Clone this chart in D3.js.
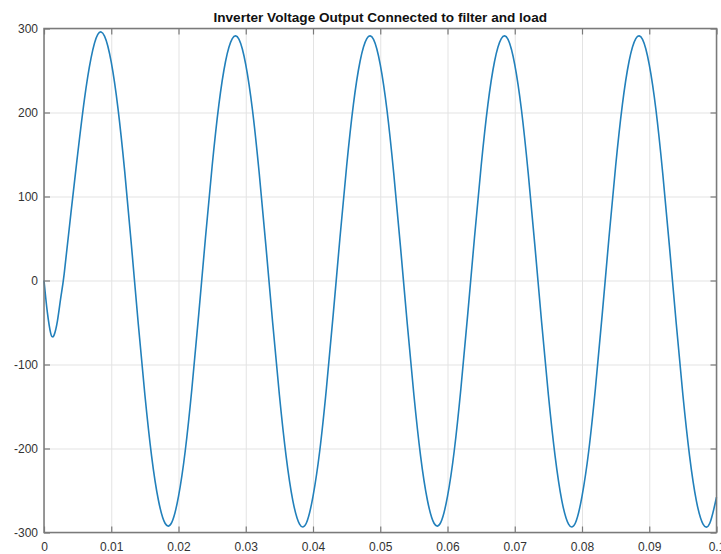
<!DOCTYPE html>
<html>
<head>
<meta charset="utf-8">
<script src="https://cdn.jsdelivr.net/npm/d3@7"></script>
<style>
  body { margin: 0; background: #fff; }
  text { font-family: "Liberation Sans", Arial, Helvetica, sans-serif; }
</style>
</head>
<body>
<div id="chart"></div>
<script>
// Time samples (s) and inverter output voltage (V)
var timeS = [0, 0.0005, 0.001, 0.00125, 0.0015, 0.002, 0.0025, 0.003,
  0.004, 0.005, 0.006, 0.007, 0.008, 0.009, 0.010, 0.011, 0.012, 0.013,
  0.014, 0.015, 0.016, 0.017, 0.018, 0.019, 0.020, 0.021, 0.022, 0.023,
  0.024, 0.025, 0.026, 0.027, 0.028, 0.029, 0.030, 0.031, 0.032, 0.033,
  0.034, 0.035, 0.036, 0.037, 0.038, 0.039, 0.040, 0.041, 0.042, 0.043,
  0.044, 0.045, 0.046, 0.047, 0.048, 0.049, 0.050, 0.051, 0.052, 0.053,
  0.054, 0.055, 0.056, 0.057, 0.058, 0.059, 0.060, 0.061, 0.062, 0.063,
  0.064, 0.065, 0.066, 0.067, 0.068, 0.069, 0.070, 0.071, 0.072, 0.073,
  0.074, 0.075, 0.076, 0.077, 0.078, 0.079, 0.080, 0.081, 0.082, 0.083,
  0.084, 0.085, 0.086, 0.087, 0.088, 0.089, 0.090, 0.091, 0.092, 0.093,
  0.094, 0.095, 0.096, 0.097, 0.098, 0.099, 0.100];

var voltage = [0, -38, -63, -67, -65, -48, -20, 8,
  80, 150, 215, 265, 293, 291, 260, 205, 130, 42,
  -50, -136, -209, -261, -289, -288, -257, -203, -128, -41,
  50, 136, 209, 261, 288, 287, 257, 203, 128, 41,
  -50, -136, -209, -262, -290, -289, -257, -203, -128, -41,
  50, 136, 209, 261, 288, 287, 257, 203, 128, 41,
  -50, -136, -209, -261, -289, -288, -257, -203, -128, -41,
  50, 136, 209, 261, 288, 287, 257, 203, 128, 41,
  -50, -136, -209, -262, -290, -289, -257, -203, -128, -41,
  50, 136, 209, 261, 288, 287, 257, 203, 128, 41,
  -50, -136, -209, -262, -290, -289, -258];

var xTicks = [0, 0.01, 0.02, 0.03, 0.04, 0.05, 0.06, 0.07, 0.08, 0.09, 0.1];
var xTickLabels = ["0", "0.01", "0.02", "0.03", "0.04", "0.05", "0.06", "0.07", "0.08", "0.09", "0.1"];
var yTicks = [-300, -200, -100, 0, 100, 200, 300];
var yTickLabels = ["-300", "-200", "-100", "0", "100", "200", "300"];

var titleText = "Inverter Voltage Output Connected to filter and load";

//svg sizes and margins
var width = 721, height = 554;
var margin = {top: 28.5, right: 4.5, bottom: 21.5, left: 44};
var w = width - margin.left - margin.right;
var h = height - margin.top - margin.bottom;

var svg = d3.select("#chart").append("svg")
    .attr("width", width)
    .attr("height", height);

var g = svg.append("g")
    .attr("transform", "translate(" + margin.left + "," + margin.top + ")");

var x = d3.scaleLinear().domain([0, 0.1]).range([0, w]);
var y = d3.scaleLinear().domain([-300, 300]).range([h, 0]);

// grid lines
g.append("g")
  .attr("class", "grid")
  .attr("transform", "translate(0," + h + ")")
  .call(d3.axisBottom(x).tickValues(xTicks).tickSize(-h).tickFormat(""));
g.append("g")
  .attr("class", "grid")
  .call(d3.axisLeft(y).tickValues(yTicks).tickSize(-w).tickFormat(""));
g.selectAll(".grid .domain").remove();
g.selectAll(".grid line").attr("stroke", "#e3e3e3").attr("stroke-width", 1);

// the voltage trace
var data = timeS.map(function(t, i) { return [t, voltage[i]]; });
var line = d3.line()
    .x(function(d) { return x(d[0]); })
    .y(function(d) { return y(d[1]); })
    .curve(d3.curveNatural);

g.append("path")
  .datum(data)
  .attr("fill", "none")
  .attr("stroke", "#2280bb")
  .attr("stroke-width", 1.6)
  .attr("stroke-linejoin", "round")
  .attr("d", line);

// axes with inward ticks on all four sides
var axisColor = "#7a7a7a";
var tick = 6;

var axBottom = g.append("g")
  .attr("transform", "translate(0," + h + ")")
  .call(d3.axisBottom(x).tickValues(xTicks).tickSize(-tick).tickPadding(10)
    .tickFormat(function(d, i) { return xTickLabels[i]; }));
var axTop = g.append("g")
  .call(d3.axisTop(x).tickValues(xTicks).tickSize(-tick).tickFormat(""));
var axLeft = g.append("g")
  .call(d3.axisLeft(y).tickValues(yTicks).tickSize(-tick).tickPadding(6)
    .tickFormat(function(d, i) { return yTickLabels[i]; }));
var axRight = g.append("g")
  .attr("transform", "translate(" + w + ",0)")
  .call(d3.axisRight(y).tickValues(yTicks).tickSize(-tick).tickFormat(""));

[axBottom, axTop, axLeft, axRight].forEach(function(a) {
  a.select(".domain").remove();
  a.selectAll("line").attr("stroke", axisColor).attr("stroke-width", 1.2);
  a.selectAll("text")
    .attr("fill", "#333")
    .style("font-size", "12px");
});

// box
g.append("rect")
  .attr("x", 0).attr("y", 0)
  .attr("width", w).attr("height", h)
  .attr("fill", "none")
  .attr("stroke", axisColor)
  .attr("stroke-width", 1.5);

// title
svg.append("text")
  .attr("x", margin.left + w / 2)
  .attr("y", 22)
  .attr("text-anchor", "middle")
  .style("font-size", "13.6px")
  .style("font-weight", "bold")
  .attr("fill", "#111")
  .text(titleText);
</script>
</body>
</html>
